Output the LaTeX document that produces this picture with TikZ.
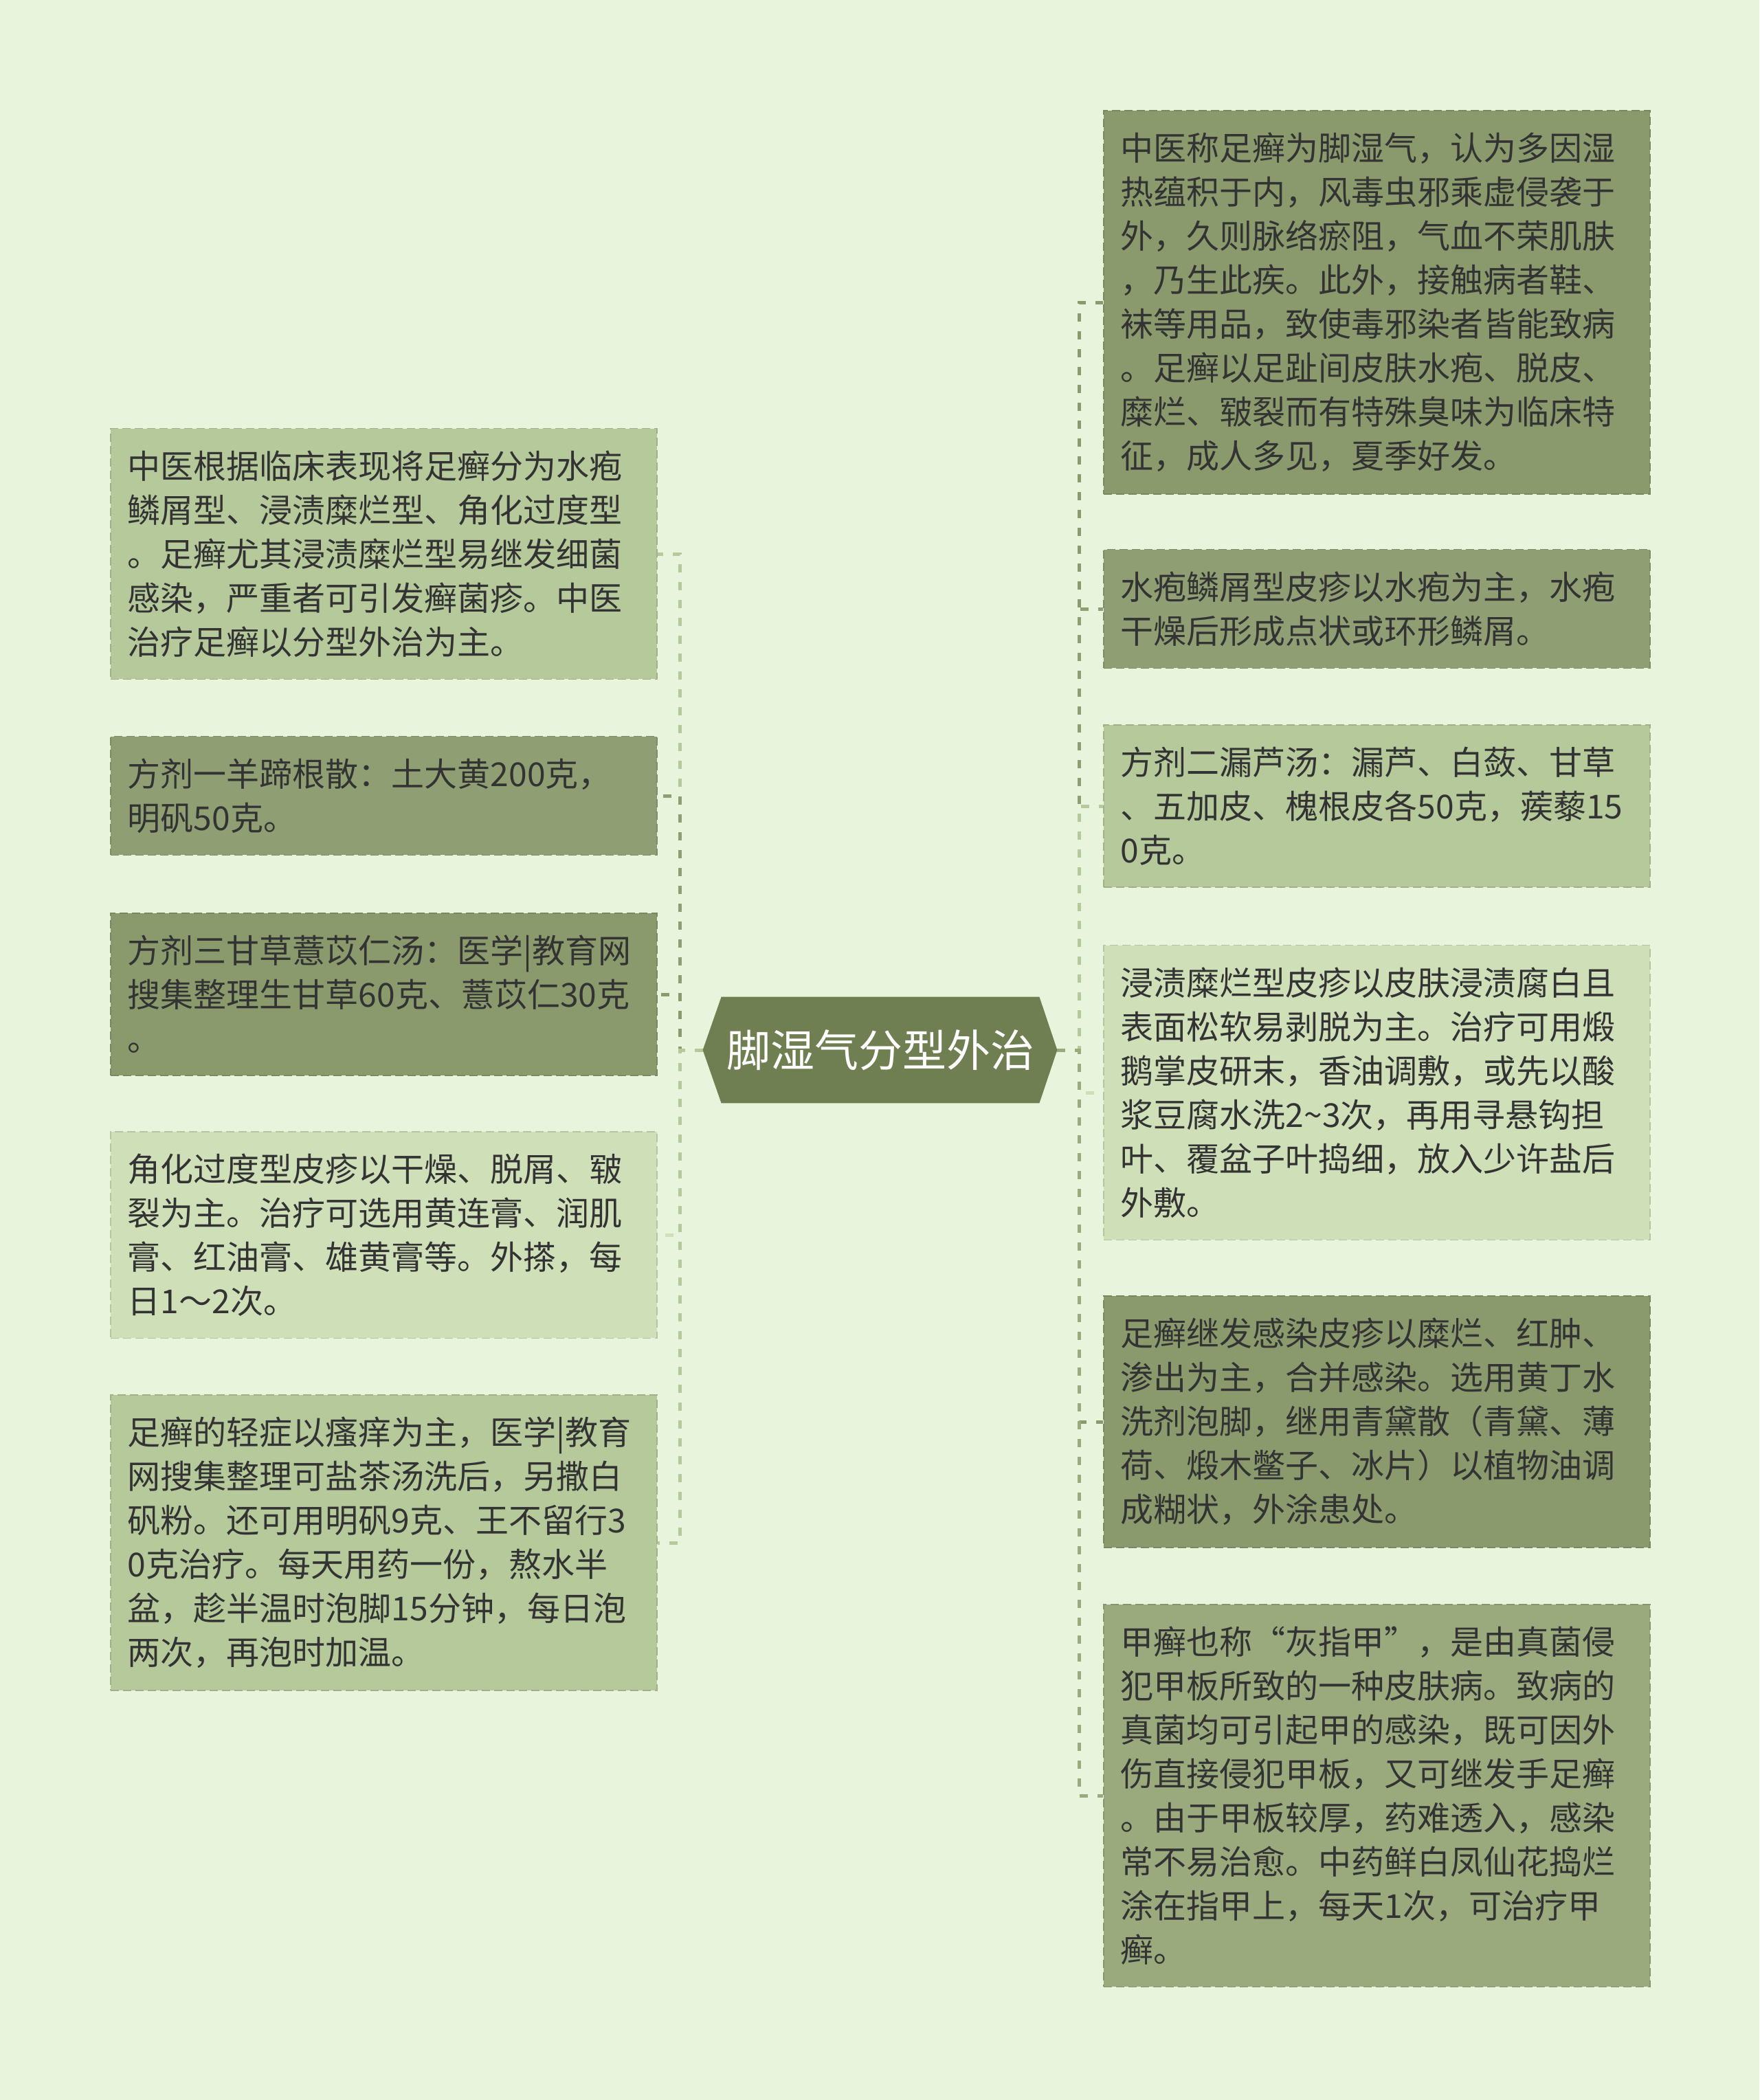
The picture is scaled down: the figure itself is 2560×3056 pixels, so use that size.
\documentclass[tikz,border=0pt]{standalone}
\usepackage{fontspec}
\setmainfont{Noto Sans CJK SC}
\usetikzlibrary{backgrounds}

\definecolor{bgcol}{HTML}{E8F5DC}
\definecolor{rootcol}{HTML}{6F7F52}
\definecolor{darkleaf}{HTML}{8A9A6C}
\definecolor{dimleaf}{HTML}{909F73}
\definecolor{softleaf}{HTML}{9AAA7D}
\definecolor{midleaf}{HTML}{B5C99A}
\definecolor{paleleaf}{HTML}{CFDFB8}
\definecolor{inkcol}{HTML}{333333}

\tikzset{
  leaf/.style={rectangle, fill=#1, draw=#1!88!black, dash pattern=on 6pt off 3pt, line width=0.8pt,
    text width=372.5pt, inner xsep=12.5pt, inner ysep=16pt, align=left, text=inkcol,
    font=\fontsize{24}{32}\selectfont},
  link/.style={draw=#1, line width=2.5pt, dash pattern=on 6pt off 7pt},
}

\begin{document}
\begin{tikzpicture}[x=0.5pt, y=-0.5pt]
  \useasboundingbox (0,0) rectangle (2560,3056);

  % centre
  \node[rectangle, inner sep=0pt, minimum width=231pt, minimum height=77pt, text=white,
        font=\fontsize{32}{38}\selectfont] (root) at (1281,1528) {脚湿气分型外治};
  \coordinate (rootL) at ([xshift=-13.5pt]root.west);
  \coordinate (rootR) at ([xshift=13pt]root.east);

  % left side
  \node[leaf=midleaf, anchor=west] (L1) at (160,806) {中医根据临床表现将足癣分为水疱\\鳞屑型、浸渍糜烂型、角化过度型\\。足癣尤其浸渍糜烂型易继发细菌\\感染，严重者可引发癣菌疹。中医\\治疗足癣以分型外治为主。};
  \node[leaf=dimleaf, anchor=west] (L2) at (160,1158) {方剂一羊蹄根散：土大黄200克，\\明矾50克。};
  \node[leaf=darkleaf, anchor=west] (L3) at (160,1447) {方剂三甘草薏苡仁汤：医学|教育网\\搜集整理生甘草60克、薏苡仁30克\\。};
  \node[leaf=paleleaf, anchor=west] (L4) at (160,1797) {角化过度型皮疹以干燥、脱屑、皲\\裂为主。治疗可选用黄连膏、润肌\\膏、红油膏、雄黄膏等。外搽，每\\日1～2次。};
  \node[leaf=midleaf, anchor=west] (L5) at (160,2245) {足癣的轻症以瘙痒为主，医学|教育\\网搜集整理可盐茶汤洗后，另撒白\\矾粉。还可用明矾9克、王不留行3\\0克治疗。每天用药一份，熬水半\\盆，趁半温时泡脚15分钟，每日泡\\两次，再泡时加温。};

  % right side
  \node[leaf=darkleaf, anchor=west] (R1) at (1605,440) {中医称足癣为脚湿气，认为多因湿\\热蕴积于内，风毒虫邪乘虚侵袭于\\外，久则脉络瘀阻，气血不荣肌肤\\，乃生此疾。此外，接触病者鞋、\\袜等用品，致使毒邪染者皆能致病\\。足癣以足趾间皮肤水疱、脱皮、\\糜烂、皲裂而有特殊臭味为临床特\\征，成人多见，夏季好发。};
  \node[leaf=dimleaf, anchor=west] (R2) at (1605,886) {水疱鳞屑型皮疹以水疱为主，水疱\\干燥后形成点状或环形鳞屑。};
  \node[leaf=midleaf, anchor=west] (R3) at (1605,1173) {方剂二漏芦汤：漏芦、白蔹、甘草\\、五加皮、槐根皮各50克，蒺藜15\\0克。};
  \node[leaf=paleleaf, anchor=west] (R4) at (1605,1590) {浸渍糜烂型皮疹以皮肤浸渍腐白且\\表面松软易剥脱为主。治疗可用煅\\鹅掌皮研末，香油调敷，或先以酸\\浆豆腐水洗2\textasciitilde 3次，再用寻悬钩担\\叶、覆盆子叶捣细，放入少许盐后\\外敷。};
  \node[leaf=darkleaf, anchor=west] (R5) at (1605,2069) {足癣继发感染皮疹以糜烂、红肿、\\渗出为主，合并感染。选用黄丁水\\洗剂泡脚，继用青黛散（青黛、薄\\荷、煅木鳖子、冰片）以植物油调\\成糊状，外涂患处。};
  \node[leaf=softleaf, anchor=west] (R6) at (1605,2613) {甲癣也称“灰指甲”，是由真菌侵\\犯甲板所致的一种皮肤病。致病的\\真菌均可引起甲的感染，既可因外\\伤直接侵犯甲板，又可继发手足癣\\。由于甲板较厚，药难透入，感染\\常不易治愈。中药鲜白凤仙花捣烂\\涂在指甲上，每天1次，可治疗甲\\癣。};

  \begin{scope}[on background layer]
    \fill[bgcol] (0,0) rectangle (2560,3056);
    % connectors
    \draw[link=midleaf]  (rootL) -- ++(-33,0) |- (L1.east);
    \draw[link=dimleaf]  (rootL) -- ++(-33,0) |- (L2.east);
    \draw[link=darkleaf] (rootL) -- ++(-33,0) |- (L3.east);
    \draw[link=paleleaf] (rootL) -- ++(-33,0) |- (L4.east);
    \draw[link=midleaf]  (rootL) -- ++(-33,0) |- (L5.east);
    \draw[link=darkleaf] (rootR) -- ++(32,0) |- (R1.west);
    \draw[link=dimleaf]  (rootR) -- ++(32,0) |- (R2.west);
    \draw[link=midleaf]  (rootR) -- ++(32,0) |- (R3.west);
    \draw[link=paleleaf] (rootR) -- ++(32,0) |- (R4.west);
    \draw[link=darkleaf] (rootR) -- ++(32,0) |- (R5.west);
    \draw[link=softleaf] (rootR) -- ++(32,0) |- (R6.west);
    % centre hexagon
    \fill[rootcol] (root.north west) -- (root.north east) -- (rootR) -- (root.south east)
      -- (root.south west) -- (rootL) -- cycle;
  \end{scope}
\end{tikzpicture}
\end{document}
